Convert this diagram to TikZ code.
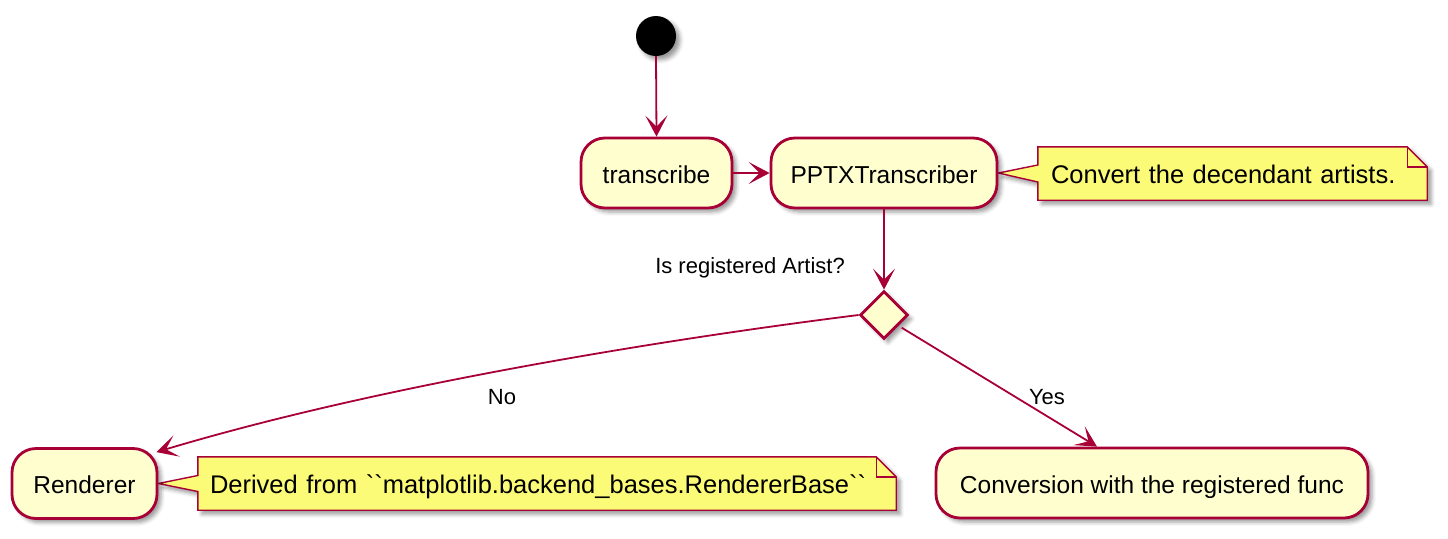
\documentclass[tikz,border=0pt]{standalone}
\usepackage{fontspec}
\setmainfont{Liberation Sans}
\usetikzlibrary{arrows.meta,shadows.blur,calc,shapes.geometric,backgrounds}
\definecolor{umlred}{HTML}{A80036}
\definecolor{umlfill}{HTML}{FEFECE}
\definecolor{notefill}{HTML}{FBFB77}
\tikzset{
 shad/.style={blur shadow={shadow xshift=4pt,shadow yshift=-4pt,shadow blur radius=4pt,shadow opacity=40}},
 act/.style={draw=umlred,line width=2.8pt,fill=umlfill,rounded corners=24pt,minimum height=70pt,font=\fontsize{24.5}{28}\selectfont,text height=20pt,text depth=0pt,inner sep=0pt,shad},
 flow/.style={draw=umlred,line width=1.8pt,-{Stealth[length=21pt,width=22pt,inset=11pt]}},
 lbl/.style={font=\fontsize{22}{26}\selectfont,text height=16pt,text depth=0pt,inner sep=0pt},
 notebox/.style={inner sep=0pt,minimum height=53pt,align=left,text height=19pt,text depth=0pt,font=\fontsize{25.5}{30}\selectfont},
 noteline/.style={draw=umlred,line width=1.4pt,fill=notefill,line join=miter,shad},
 foldline/.style={draw=umlred,line width=1.4pt},
}
\begin{document}
\begin{tikzpicture}[x=1pt,y=-1pt]
\useasboundingbox (0,0) rectangle (1448,538);
% start
\node[circle,fill=black,minimum size=40pt,inner sep=0pt,shad] (s) at (656,36) {};
% activities
\node[act,minimum width=151pt] (t) at (656.5,173) {transcribe};
\node[act,minimum width=226pt] (p) at (884,173) {PPTXTranscriber};
\node[diamond,draw=umlred,line width=2.8pt,fill=umlfill,minimum width=48pt,minimum height=48pt,inner sep=0pt,shad] (d) at (884,315) {};
\node[act,minimum width=145pt] (r) at (84.5,483.5) {Renderer};
\node[act,minimum width=432pt] (c) at (1152,483) {Conversion with the registered func};
% notes
\node[notebox,text width=363pt,inner xsep=13pt] (n1) at (1232.5,173.5) {Convert the decendant artists.};
\node[notebox,text width=674pt,inner xsep=12pt] (n2) at (547,483.5) {Derived from \textasciigrave\textasciigrave matplotlib.backend\_bases.RendererBase\textasciigrave\textasciigrave};
\begin{scope}[on background layer]
\draw[noteline] (n1.north west) -- ($(n1.north east)+(-20,0)$) -- ($(n1.north east)+(0,20)$) -- (n1.south east) -- (n1.south west) -- ($(n1.west)+(0,8.5)$) -- (p.east) -- ($(n1.west)+(0,-8.5)$) -- cycle;
\draw[foldline] ($(n1.north east)+(-20,0)$) -- ++(0,20) -- ++(20,0);
\draw[noteline] (n2.north west) -- ($(n2.north east)+(-20,0)$) -- ($(n2.north east)+(0,20)$) -- (n2.south east) -- (n2.south west) -- ($(n2.west)+(0,8)$) -- (r.east) -- ($(n2.west)+(0,-8)$) -- cycle;
\draw[foldline] ($(n2.north east)+(-20,0)$) -- ++(0,20) -- ++(20,0);
\end{scope}
% labels
\node[lbl] (q) at (750,265) {Is registered Artist?};
\node[lbl] (no) at (502,396) {No};
\node[lbl] (yes) at (1047,396) {Yes};
% connectors
\coordinate (rin) at ($(r.north east)+(-2,5)$);
\coordinate (cin) at ($(c.north)+(-55,0)$);
\draw[flow] (s.south) -- (t.north);
\draw[flow] (t.east) -- (p.west);
\draw[flow] (p.south) -- (d.north);
\draw[flow] (d.west) .. controls +(-160,20) and +(240,-72) .. (rin);
\draw[flow] ($(d.south east)+(5,0)$) -- (cin);
\end{tikzpicture}
\end{document}
